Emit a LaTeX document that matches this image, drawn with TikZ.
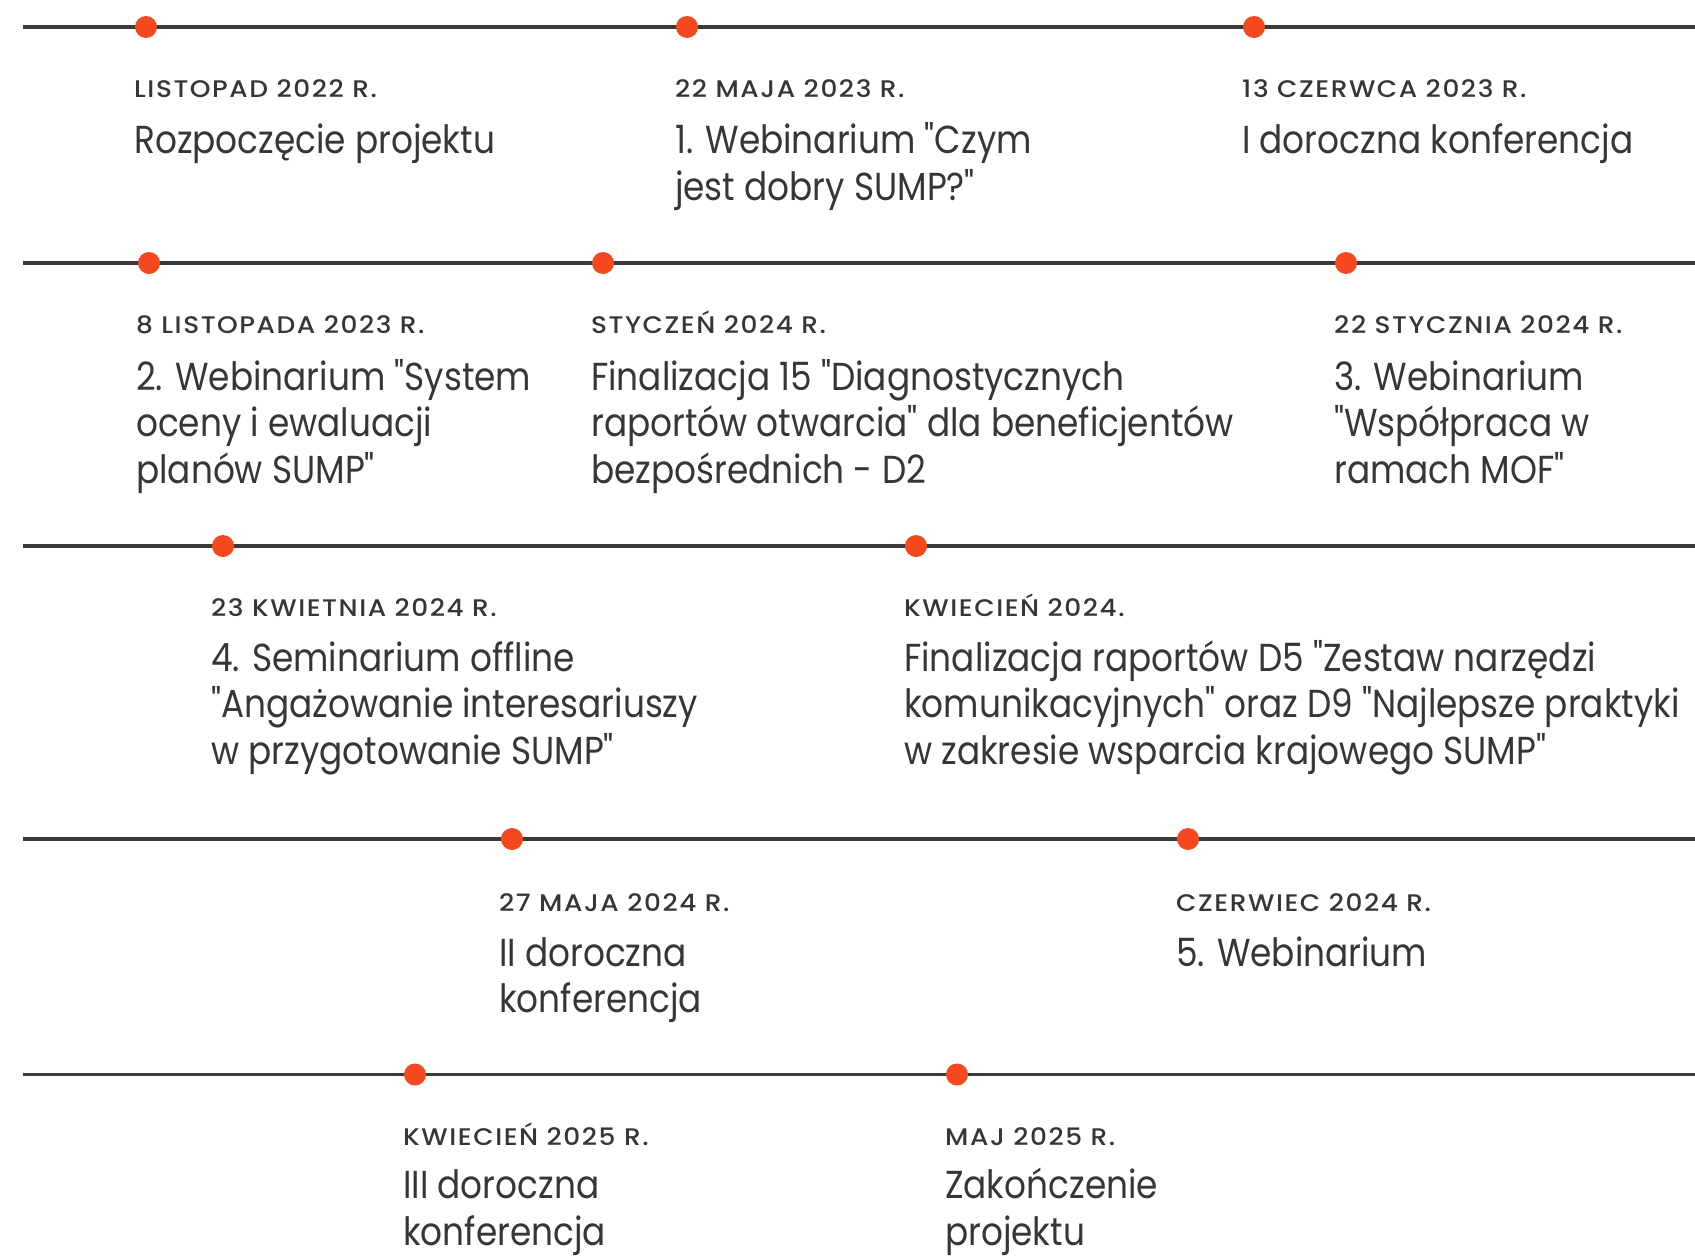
\documentclass[tikz,border=0pt]{standalone}
\usepackage{fontspec}
\setmainfont[FakeStretch=0.88,Ligatures=TeXOff]{Poppins}
\newfontfamily\datefont[FakeStretch=1.1,LetterSpace=6.5,Ligatures=TeXOff]{Poppins Medium}
\definecolor{dotred}{HTML}{F4481E}
\definecolor{ink}{HTML}{363636}
\definecolor{rulegray}{HTML}{3A3A3A}
\begin{document}
\begin{tikzpicture}[x=1pt,y=-1pt,
  tline/.style={draw=rulegray,line width=3.5pt},
  evdot/.style={circle,fill=dotred,minimum size=22pt,inner sep=0pt},
  datelbl/.style={anchor=base west,inner sep=0pt,text=ink,font=\datefont\fontsize{24}{28}\selectfont},
  bodylbl/.style={anchor=base west,inner sep=0pt,align=left,text=ink,font=\fontsize{39}{46.5}\selectfont}]
\useasboundingbox[fill=white] (0,0) rectangle (1695,1256);
% timeline rows
\foreach \r/\y in {1/27,2/263,3/546,4/839,5/1074.5}{
  \coordinate (ls\r) at (23,\y);
  \coordinate (le\r) at (1695,\y);
  \draw[tline] (ls\r) -- (le\r);
}
% row 1 (body nodes are placed by the baseline of their last line)
\node[evdot] (d1) at (146,27) {};
\node[evdot] (d2) at (687,27) {};
\node[evdot] (d3) at (1254,27) {};
\node[datelbl] (t1) at (134,97) {LISTOPAD 2022 R.};
\node[bodylbl] (b1) at (134,153.5) {Rozpoczęcie projektu};
\node[datelbl] (t2) at (675,97) {22 MAJA 2023 R.};
\node[bodylbl] (b2) at (675,200) {1. Webinarium "Czym\\jest dobry SUMP?"};
\node[datelbl] (t3) at (1242,97) {13 CZERWCA 2023 R.};
\node[bodylbl] (b3) at (1242,153.5) {I doroczna konferencja};
% row 2
\node[evdot] (d4) at (149,263) {};
\node[evdot] (d5) at (603,263) {};
\node[evdot] (d6) at (1346,263) {};
\node[datelbl] (t4) at (136,333) {8 LISTOPADA 2023 R.};
\node[bodylbl] (b4) at (136,483) {2. Webinarium "System\\oceny i ewaluacji\\planów SUMP"};
\node[datelbl] (t5) at (591,333) {STYCZEŃ 2024 R.};
\node[bodylbl] (b5) at (591,483) {Finalizacja 15 "Diagnostycznych\\raportów otwarcia" dla beneficjentów\\bezpośrednich - D2};
\node[datelbl] (t6) at (1334,333) {22 STYCZNIA 2024 R.};
\node[bodylbl] (b6) at (1334,483) {3. Webinarium\\"Współpraca w\\ramach MOF"};
% row 3
\node[evdot] (d7) at (223,546) {};
\node[evdot] (d8) at (916,546) {};
\node[datelbl] (t7) at (211,616) {23 KWIETNIA 2024 R.};
\node[bodylbl] (b7) at (211,764) {4. Seminarium offline\\"Angażowanie interesariuszy\\w przygotowanie SUMP"};
\node[datelbl] (t8) at (904,616) {KWIECIEŃ 2024.};
\node[bodylbl] (b8) at (904,764) {Finalizacja raportów D5 "Zestaw narzędzi\\komunikacyjnych" oraz D9 "Najlepsze praktyki\\w zakresie wsparcia krajowego SUMP"};
% row 4
\node[evdot] (d9) at (512,839) {};
\node[evdot] (d10) at (1188,839) {};
\node[datelbl] (t9) at (499,911) {27 MAJA 2024 R.};
\node[bodylbl] (b9) at (499,1012.5) {II doroczna\\konferencja};
\node[datelbl] (t10) at (1176,911) {CZERWIEC 2024 R.};
\node[bodylbl] (b10) at (1176,966) {5. Webinarium};
% row 5
\node[evdot] (d11) at (415,1074.5) {};
\node[evdot] (d12) at (957,1074.5) {};
\node[datelbl] (t11) at (403,1145) {KWIECIEŃ 2025 R.};
\node[bodylbl] (b11) at (403,1245) {III doroczna\\konferencja};
\node[datelbl] (t12) at (945,1145) {MAJ 2025 R.};
\node[bodylbl] (b12) at (945,1245) {Zakończenie\\projektu};
\end{tikzpicture}
\end{document}
